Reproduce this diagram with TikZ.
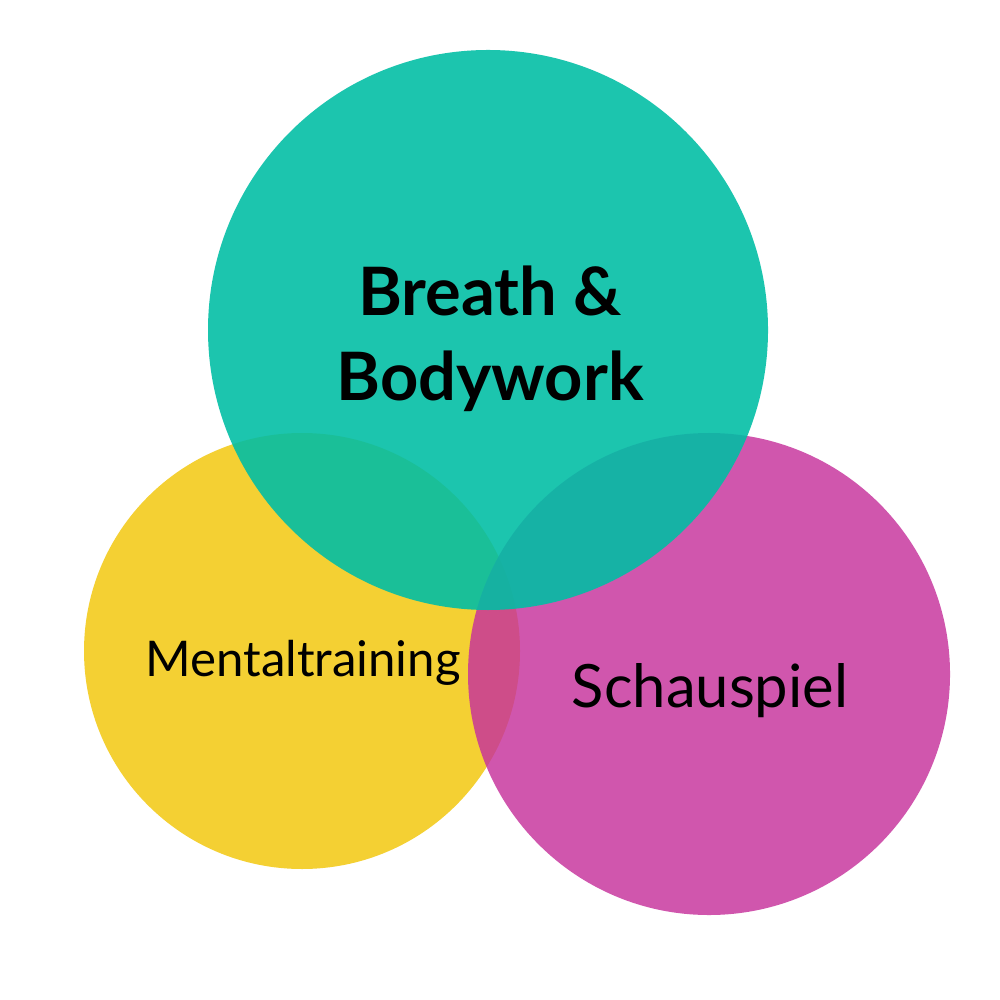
\documentclass[tikz,border=0pt]{standalone}
\usepackage{fontspec}
\setmainfont{Lato}
\usepackage{tikz}
\usetikzlibrary{positioning}
\definecolor{tealc}{RGB}{0,190,165}
\definecolor{magc}{RGB}{198,49,156}
\definecolor{yelc}{RGB}{244,208,51}
\tikzset{
  label/.style={text=black,inner sep=0pt,align=center},
}
\begin{document}
\begin{tikzpicture}
\useasboundingbox[fill=white] (0,0) rectangle (10,-10);
% circles
\fill[yelc] (3.02,-6.51) circle (2.18);
\fill[magc,fill opacity=0.82] (7.09,-6.74) circle (2.41);
\fill[tealc,fill opacity=0.89] (4.88,-3.30) circle (2.80);
% texts
\node[label,font=\fontsize{19}{22}\selectfont\bfseries,anchor=base] (breath) at (4.90,-3.16) {Breath \&};
\node[label,font=\fontsize{19}{22}\selectfont\bfseries,anchor=base] (body) at (4.90,-4.01) {Bodywork};
\node[label,font=\fontsize{14}{17}\selectfont,anchor=base] (mental) at (3.03,-6.76) {Mentaltraining};
\node[label,font=\fontsize{17}{20}\selectfont,anchor=base] (schau) at (7.10,-7.07) {Schauspiel};
\end{tikzpicture}
\end{document}
